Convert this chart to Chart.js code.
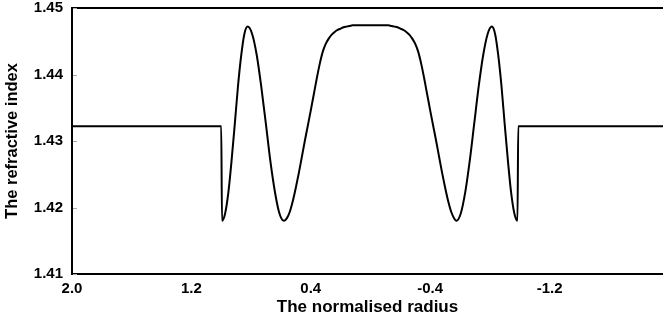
<!DOCTYPE html>
<html>
<head>
<meta charset="utf-8">
<script src="https://cdn.jsdelivr.net/npm/chart.js@4/dist/chart.umd.min.js"></script>
<style>
  html, body { margin: 0; padding: 0; background: #fff; }
  #wrap { width: 663px; height: 330px; }
</style>
</head>
<body>
<div id="wrap"><canvas id="profileChart"></canvas></div>
<script>
// normalised radius (x) and refractive index (y)
const radius = [
    2.0, 1.0, 0.995, 0.974, 0.952, 0.931, 0.909, 0.888, 0.866, 0.845, 0.823,
    0.793, 0.762, 0.732, 0.701, 0.671, 0.640, 0.610, 0.580,
    0.56, 0.54, 0.52, 0.50, 0.48, 0.46, 0.44, 0.42, 0.40, 0.38, 0.36, 0.34,
    0.32, 0.30, 0.28, 0.26, 0.24, 0.22, 0.20, 0.18, 0.16, 0.14, 0.12, 0.0,
    -0.12, -0.14, -0.16, -0.18, -0.20, -0.22, -0.24, -0.26, -0.28, -0.30, -0.32,
    -0.34, -0.36, -0.38, -0.40, -0.42, -0.44, -0.46, -0.48, -0.50, -0.52, -0.54, -0.56,
    -0.575, -0.605, -0.635, -0.665, -0.695, -0.725, -0.755, -0.785, -0.813,
    -0.835, -0.856, -0.878, -0.899, -0.921, -0.942, -0.964, -0.985, -0.99, -1.96
];
const refractiveIndex = [
    1.4322, 1.4322, 1.4180, 1.4191, 1.4223, 1.4270, 1.4326, 1.4382, 1.4429, 1.4461, 1.4472,
    1.4461, 1.4429, 1.4382, 1.4326, 1.4270, 1.4223, 1.4191, 1.4180,
    1.4184, 1.4194, 1.4210, 1.4230, 1.4252, 1.4276, 1.4300, 1.4323, 1.4346, 1.4370, 1.4394, 1.4416,
    1.4434, 1.4446, 1.4454, 1.4460, 1.4464, 1.4467, 1.4469, 1.4471, 1.4472, 1.4473, 1.4474, 1.4474,
    1.4474, 1.4473, 1.4472, 1.4471, 1.4469, 1.4467, 1.4464, 1.4460, 1.4454, 1.4446, 1.4434,
    1.4416, 1.4394, 1.4370, 1.4346, 1.4323, 1.4300, 1.4276, 1.4252, 1.4230, 1.4210, 1.4194, 1.4184,
    1.4180, 1.4191, 1.4223, 1.4270, 1.4326, 1.4382, 1.4429, 1.4461, 1.4472,
    1.4461, 1.4429, 1.4382, 1.4326, 1.4270, 1.4223, 1.4191, 1.4180, 1.4322, 1.4322
];
const xTicks = [2.0, 1.2, 0.4, -0.4, -1.2];
const yTicks = [1.41, 1.42, 1.43, 1.44, 1.45];

const FONT = "'Liberation Sans', Arial, Helvetica, sans-serif";

// top frame line and the small grey tick marks inside the y axis
const framePlugin = {
    id: "frame",
    afterDraw(chart) {
        const { ctx, chartArea } = chart;
        const yScale = chart.scales.y;
        ctx.save();
        ctx.strokeStyle = "#000";
        ctx.lineWidth = 2;
        ctx.beginPath();
        ctx.moveTo(chartArea.left - 1, chartArea.top);
        ctx.lineTo(chartArea.right, chartArea.top);
        ctx.stroke();
        ctx.strokeStyle = "#aaa";
        ctx.lineWidth = 1;
        yTicks.forEach(v => {
            const y = Math.round(yScale.getPixelForValue(v)) + 0.5;
            ctx.beginPath();
            ctx.moveTo(chartArea.left + 1, y);
            ctx.lineTo(chartArea.left + 5, y);
            ctx.stroke();
        });
        ctx.restore();
    }
};

new Chart(document.getElementById("profileChart"), {
    type: "line",
    data: {
        datasets: [{
            data: radius.map((r, i) => ({ x: r, y: refractiveIndex[i] })),
            borderColor: "#000",
            borderWidth: 2,
            pointRadius: 0,
            cubicInterpolationMode: "monotone",
            fill: false
        }]
    },
    options: {
        responsive: true,
        maintainAspectRatio: false,
        animation: false,
        layout: { padding: { top: 8, right: 0, left: 0, bottom: 0 } },
        plugins: { legend: { display: false }, tooltip: { enabled: false } },
        scales: {
            x: {
                type: "linear",
                reverse: true,
                min: -1.96,
                max: 2.0,
                afterBuildTicks: s => { s.ticks = xTicks.map(v => ({ value: v })); },
                afterFit: s => { s.height = 56; s.paddingLeft = 0; s.paddingRight = 0; },
                grid: { display: true, drawOnChartArea: false, drawTicks: false },
                border: { display: true, color: "#000", width: 2 },
                ticks: {
                    color: "#000",
                    padding: 6,
                    maxRotation: 0,
                    autoSkip: false,
                    font: { family: FONT, size: 15, weight: "bold" },
                    callback: v => Number(v).toFixed(1)
                },
                title: {
                    display: true,
                    text: "The normalised radius",
                    color: "#000",
                    font: { family: FONT, size: 17, weight: "bold" },
                    padding: { top: 0, bottom: 12 }
                }
            },
            y: {
                min: 1.41,
                max: 1.45,
                afterBuildTicks: s => { s.ticks = yTicks.map(v => ({ value: v })); },
                afterFit: s => { s.width = 72; s.paddingTop = 0; s.paddingBottom = 0; },
                grid: { display: true, drawOnChartArea: false, drawTicks: false },
                border: { display: true, color: "#000", width: 2 },
                ticks: {
                    color: "#000",
                    padding: 9,
                    font: { family: FONT, size: 15, weight: "bold" },
                    callback: v => Number(v).toFixed(2)
                },
                title: {
                    display: true,
                    text: "The refractive index",
                    color: "#000",
                    font: { family: FONT, size: 16.5, weight: "bold" },
                    padding: { top: 3, bottom: 0 }
                }
            }
        }
    },
    plugins: [framePlugin]
});
</script>
</body>
</html>
